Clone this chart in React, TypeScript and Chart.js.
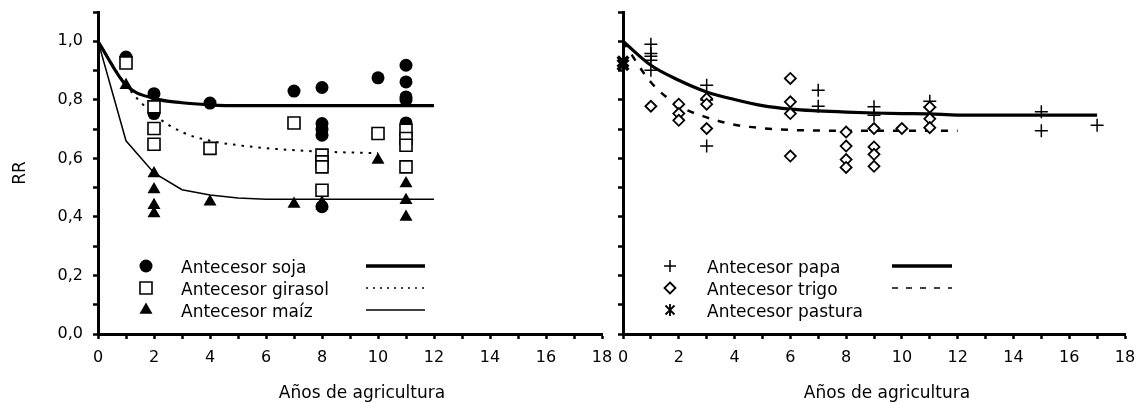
import React, { useEffect, useRef } from 'react';
import { Chart, registerables } from 'chart.js';

Chart.register(...registerables);

const FONT = '"DejaVu Sans", Verdana, sans-serif';
const TICK_SIZE = 16;
const TEXT_SIZE = 17;

// ---------- Left panel data (Años de agricultura vs RR) ----------
const sojaX = [1, 2, 2, 4, 7, 8, 8, 8, 8, 8, 10, 11, 11, 11, 11, 11];
const sojaY = [0.946, 0.821, 0.753, 0.789, 0.83, 0.842, 0.719, 0.699, 0.679, 0.435, 0.875, 0.918, 0.861, 0.81, 0.799, 0.721];

const girasolX = [1, 2, 2, 2, 4, 7, 8, 8, 8, 8, 10, 11, 11, 11, 11];
const girasolY = [0.926, 0.776, 0.702, 0.648, 0.634, 0.721, 0.611, 0.588, 0.571, 0.491, 0.685, 0.696, 0.668, 0.645, 0.571];

const maizX = [1, 2, 2, 2, 2, 4, 7, 8, 8, 10, 11, 11, 11];
const maizY = [0.85, 0.548, 0.494, 0.44, 0.412, 0.452, 0.444, 0.448, 0.437, 0.594, 0.514, 0.457, 0.4];

const sojaFitX = [0, 1, 2, 3, 4, 5, 6, 7, 8, 9, 10, 11, 12];
const sojaFitY = [1.0, 0.85, 0.805, 0.79, 0.783, 0.78, 0.78, 0.78, 0.78, 0.78, 0.78, 0.78, 0.78];

const girasolFitX = [0, 1, 2, 3, 4, 5, 6, 7, 8, 9, 10];
const girasolFitY = [1.0, 0.85, 0.75, 0.69, 0.66, 0.645, 0.635, 0.628, 0.623, 0.62, 0.618];

const maizFitX = [0, 1, 2, 3, 4, 5, 6, 7, 8, 9, 10, 11, 12];
const maizFitY = [1.0, 0.66, 0.55, 0.493, 0.475, 0.465, 0.46, 0.46, 0.46, 0.46, 0.46, 0.46, 0.46];

// ---------- Right panel data ----------
const papaX = [1, 1, 1, 1, 1, 3, 3, 3, 7, 7, 9, 9, 11, 11, 15, 15, 17];
const papaY = [0.99, 0.958, 0.949, 0.935, 0.901, 0.85, 0.799, 0.642, 0.833, 0.778, 0.776, 0.747, 0.795, 0.775, 0.759, 0.694, 0.713];

const trigoX = [1, 2, 2, 2, 3, 3, 3, 6, 6, 6, 6, 8, 8, 8, 8, 9, 9, 9, 9, 10, 11, 11, 11];
const trigoY = [0.778, 0.785, 0.753, 0.73, 0.804, 0.785, 0.702, 0.873, 0.793, 0.753, 0.608, 0.69, 0.642, 0.596, 0.569, 0.702, 0.639, 0.614, 0.573, 0.702, 0.775, 0.735, 0.705];

const pasturaX = [0, 0];
const pasturaY = [0.93, 0.92];

const papaFitX = [0, 1, 2, 3, 4, 5, 6, 7, 8, 9, 10, 11, 12, 13, 14, 15, 16, 17];
const papaFitY = [1.0, 0.918, 0.867, 0.827, 0.801, 0.78, 0.768, 0.762, 0.758, 0.755, 0.753, 0.752, 0.748, 0.748, 0.748, 0.748, 0.748, 0.748];

const trigoFitX = [0, 1, 2, 3, 4, 5, 6, 7, 8, 9, 10, 11, 12];
const trigoFitY = [1.0, 0.86, 0.78, 0.74, 0.715, 0.703, 0.697, 0.695, 0.694, 0.694, 0.694, 0.694, 0.694];

// ---------- axis settings ----------
const X_MIN = 0;
const X_MAX = 18;
const Y_MIN = 0;
const Y_MAX = 1.1;
const X_TITLE = 'Años de agricultura';
const Y_TITLE = 'RR';

const pts = (xs: number[], ys: number[]) => xs.map((x, i) => ({ x, y: ys[i] }));

type Marker = 'circle' | 'square' | 'triangle' | 'cross' | 'diamond' | 'star';

function drawMarker(ctx: CanvasRenderingContext2D, m: Marker, x: number, y: number) {
  ctx.save();
  ctx.strokeStyle = '#000';
  ctx.fillStyle = '#000';
  ctx.setLineDash([]);
  ctx.beginPath();
  if (m === 'circle') {
    ctx.arc(x, y, 6.5, 0, Math.PI * 2);
    ctx.fill();
  } else if (m === 'square') {
    ctx.lineWidth = 1.6;
    ctx.fillStyle = '#fff';
    ctx.rect(x - 6, y - 6, 12, 12);
    ctx.fill();
    ctx.stroke();
  } else if (m === 'triangle') {
    const r = 7.5;
    ctx.moveTo(x, y - r);
    ctx.lineTo(x + r * Math.sin((2 * Math.PI) / 3), y + r / 2);
    ctx.lineTo(x - r * Math.sin((2 * Math.PI) / 3), y + r / 2);
    ctx.closePath();
    ctx.fill();
  } else if (m === 'cross') {
    ctx.lineWidth = 1.5;
    ctx.moveTo(x - 6, y);
    ctx.lineTo(x + 6, y);
    ctx.moveTo(x, y - 6);
    ctx.lineTo(x, y + 6);
    ctx.stroke();
  } else if (m === 'diamond') {
    ctx.lineWidth = 1.8;
    ctx.fillStyle = '#fff';
    ctx.moveTo(x, y - 5.5);
    ctx.lineTo(x + 5.5, y);
    ctx.lineTo(x, y + 5.5);
    ctx.lineTo(x - 5.5, y);
    ctx.closePath();
    ctx.fill();
    ctx.stroke();
  } else if (m === 'star') {
    ctx.lineWidth = 1.8;
    ctx.moveTo(x - 4.5, y - 4.5);
    ctx.lineTo(x + 4.5, y + 4.5);
    ctx.moveTo(x + 4.5, y - 4.5);
    ctx.lineTo(x - 4.5, y + 4.5);
    ctx.moveTo(x, y - 6);
    ctx.lineTo(x, y + 6);
    ctx.stroke();
  }
  ctx.restore();
}

type LegendItem = { label: string; marker: Marker; line?: { width: number; dash: number[] } };

function annotationPlugin(
  items: LegendItem[],
  markerX: number,
  textX: number,
  lineX1: number,
  lineX2: number,
  rows: number[],
  titleX: number,
  titleY: number
) {
  return {
    id: 'customLegendAndTitle',
    afterDraw(chart: any) {
      const ctx: CanvasRenderingContext2D = chart.ctx;
      ctx.save();
      ctx.font = `${TEXT_SIZE}px ${FONT}`;
      ctx.fillStyle = '#000';
      ctx.textBaseline = 'alphabetic';
      ctx.textAlign = 'center';
      ctx.fillText(X_TITLE, titleX, titleY);
      items.forEach((it, i) => {
        const y = rows[i];
        drawMarker(ctx, it.marker, markerX, y);
        ctx.fillStyle = '#000';
        ctx.font = `${TEXT_SIZE}px ${FONT}`;
        ctx.textBaseline = 'alphabetic';
        ctx.textAlign = 'left';
        ctx.fillText(it.label, textX, y + 6.5);
        if (it.line) {
          ctx.beginPath();
          ctx.strokeStyle = '#000';
          ctx.lineWidth = it.line.width;
          ctx.setLineDash(it.line.dash);
          ctx.moveTo(lineX1, y);
          ctx.lineTo(lineX2, y);
          ctx.stroke();
          ctx.setLineDash([]);
        }
      });
      ctx.restore();
    },
  };
}

function makeScales(yWidth: number, xHeight: number, showYLabels: boolean) {
  return {
    x: {
      type: 'linear',
      min: X_MIN,
      max: X_MAX,
      ticks: {
        stepSize: 1,
        autoSkip: false,
        maxRotation: 0,
        color: '#000',
        padding: 9,
        font: { family: FONT, size: TICK_SIZE },
        callback: (v: number) => (Math.round(v) % 2 === 0 ? String(Math.round(v)) : ''),
      },
      grid: { drawOnChartArea: false, drawTicks: true, tickLength: 5, tickWidth: 2.5, tickColor: '#000' },
      border: { display: true, color: '#000', width: 3 },
      title: { display: false },
      afterFit: (s: any) => {
        s.height = xHeight;
        s.paddingLeft = 0;
        s.paddingRight = 0;
      },
    },
    y: {
      type: 'linear',
      min: Y_MIN,
      max: Y_MAX,
      ticks: {
        stepSize: 0.1,
        autoSkip: false,
        color: '#000',
        padding: 10,
        font: { family: FONT, size: TICK_SIZE },
        callback: (v: number) => {
          if (!showYLabels) return '';
          const k = Math.round(v * 10);
          return k % 2 === 0 ? (k / 10).toFixed(1).replace('.', ',') : '';
        },
      },
      grid: { drawOnChartArea: false, drawTicks: true, tickLength: 5, tickWidth: 2.5, tickColor: '#000' },
      border: { display: true, color: '#000', width: 3 },
      title: {
        display: showYLabels,
        text: Y_TITLE,
        color: '#000',
        font: { family: FONT, size: TEXT_SIZE },
        padding: { top: 10, bottom: 0 },
      },
      afterFit: (s: any) => {
        s.width = yWidth;
        s.paddingTop = 0;
        s.paddingBottom = 0;
      },
    },
  };
}

const scatterDs = (data: any[], style: string, radius: number, fill: string, bw: number) => ({
  type: 'scatter',
  data,
  showLine: false,
  pointStyle: style,
  pointRadius: radius,
  pointHoverRadius: radius,
  pointBackgroundColor: fill,
  pointBorderColor: '#000',
  pointBorderWidth: bw,
  clip: false,
});

const lineDs = (data: any[], width: number, dash: number[], smooth: boolean) => ({
  type: 'line',
  data,
  showLine: true,
  borderColor: '#000',
  borderWidth: width,
  borderDash: dash,
  pointRadius: 0,
  fill: false,
  tension: smooth ? 0.3 : 0,
  cubicInterpolationMode: smooth ? 'monotone' : 'default',
  clip: false,
});

function LeftChart() {
  const ref = useRef<HTMLCanvasElement | null>(null);
  useEffect(() => {
    if (!ref.current) return;
    const chart = new Chart(ref.current, {
      type: 'scatter',
      data: {
        datasets: [
          scatterDs(pts(girasolX, girasolY), 'rect', 8.5, '#fff', 1.6),
          scatterDs(pts(maizX, maizY), 'triangle', 7.5, '#000', 0),
          scatterDs(pts(sojaX, sojaY), 'circle', 6.5, '#000', 0),
          lineDs(pts(sojaFitX, sojaFitY), 3.2, [], true),
          lineDs(pts(girasolFitX, girasolFitY), 2, [2.5, 6], true),
          lineDs(pts(maizFitX, maizFitY), 1.5, [], false),
        ] as any,
      },
      options: {
        animation: false,
        responsive: false,
        devicePixelRatio: 1,
        layout: { padding: { top: 12, right: 20, left: 0, bottom: 0 } },
        plugins: { legend: { display: false }, tooltip: { enabled: false } },
        scales: makeScales(98, 69, true) as any,
      },
      plugins: [
        annotationPlugin(
          [
            { label: 'Antecesor soja', marker: 'circle', line: { width: 3.5, dash: [] } },
            { label: 'Antecesor girasol', marker: 'square', line: { width: 1.5, dash: [2, 5] } },
            { label: 'Antecesor maíz', marker: 'triangle', line: { width: 1.5, dash: [] } },
          ],
          146,
          181,
          366,
          425,
          [266, 288, 310],
          362,
          398
        ) as any,
      ],
    });
    return () => chart.destroy();
  }, []);
  return <canvas ref={ref} width={622} height={403} style={{ position: 'absolute', left: 0, top: 0, width: 622, height: 403 }} />;
}

function RightChart() {
  const ref = useRef<HTMLCanvasElement | null>(null);
  useEffect(() => {
    if (!ref.current) return;
    const chart = new Chart(ref.current, {
      type: 'scatter',
      data: {
        datasets: [
          scatterDs(pts(trigoX, trigoY), 'rectRot', 5.5, '#fff', 1.8),
          scatterDs(pts(papaX, papaY), 'cross', 6.5, '#000', 1.5),
          scatterDs(pts(pasturaX, pasturaY), 'crossRot', 7.5, '#000', 3.5),
          lineDs(pts(papaFitX, papaFitY), 3.2, [], true),
          lineDs(pts(trigoFitX, trigoFitY), 2.5, [7, 9], true),
        ] as any,
      },
      options: {
        animation: false,
        responsive: false,
        devicePixelRatio: 1,
        layout: { padding: { top: 12, right: 20, left: 0, bottom: 0 } },
        plugins: { legend: { display: false }, tooltip: { enabled: false } },
        scales: makeScales(23, 69, false) as any,
      },
      plugins: [
        annotationPlugin(
          [
            { label: 'Antecesor papa', marker: 'cross', line: { width: 3.5, dash: [] } },
            { label: 'Antecesor trigo', marker: 'diamond', line: { width: 1.5, dash: [6, 8] } },
            { label: 'Antecesor pastura', marker: 'star' },
          ],
          70,
          107,
          292,
          352,
          [266, 288, 310],
          287,
          398
        ) as any,
      ],
    });
    return () => chart.destroy();
  }, []);
  return <canvas ref={ref} width={545} height={403} style={{ position: 'absolute', left: 600, top: 0, width: 545, height: 403 }} />;
}

export default function App() {
  Chart.defaults.font.family = FONT;
  return (
    <div style={{ position: 'absolute', left: 0, top: 0, width: 1145, height: 403, background: '#fff', overflow: 'hidden' }}>
      <LeftChart />
      <RightChart />
    </div>
  );
}
